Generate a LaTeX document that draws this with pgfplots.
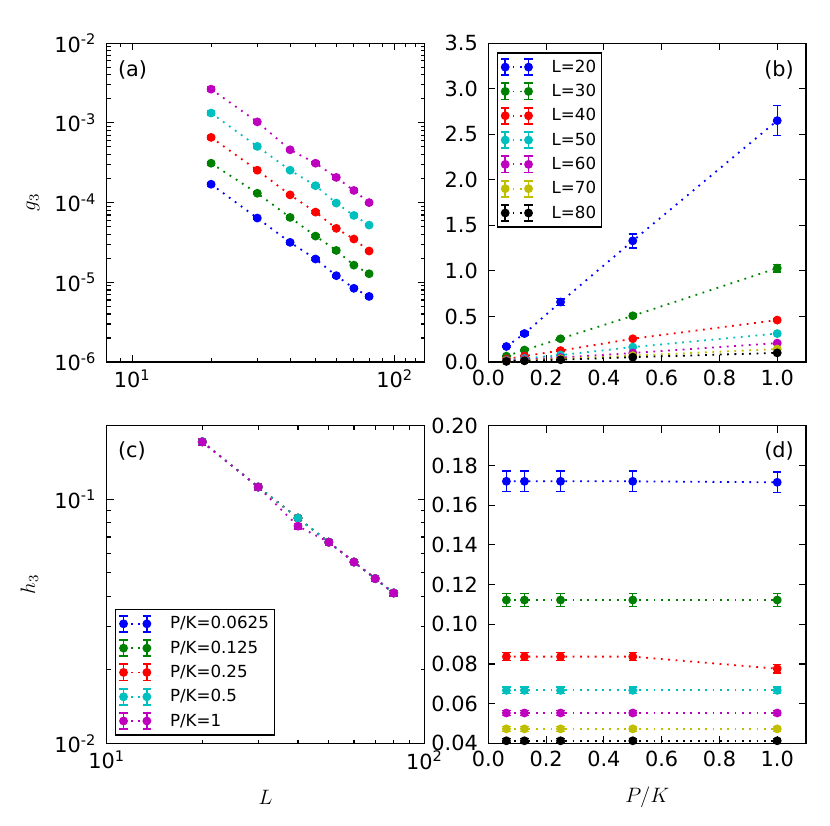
\documentclass[border=0pt]{standalone}
\usepackage[no-math]{fontspec}
\setmainfont{DejaVu Sans}
\usepackage{graphicx}
\usepackage{pgfplots}
\pgfplotsset{compat=1.18}
\usepackage{pgfplotstable}

\definecolor{mb}{rgb}{0,0,1}
\definecolor{mg}{rgb}{0,0.5,0}
\definecolor{mr}{rgb}{1,0,0}
\definecolor{mc}{rgb}{0,0.75,0.75}
\definecolor{mm}{rgb}{0.75,0,0.75}
\definecolor{my}{rgb}{0.75,0.75,0}
\definecolor{mk}{rgb}{0,0,0}

% g3 vs L, columns: P/K = 0.0625, 0.125, 0.25, 0.5, 1
\pgfplotstableread{
L  p1      e1      p2      e2      p3      e3      p4      e4      p5      e5
20 1.70e-4 1.0e-5  3.12e-4 1.8e-5  6.58e-4 3.8e-5  1.33e-3 7.7e-5  2.65e-3 1.66e-4
30 6.40e-5 2.6e-6  1.31e-4 5.2e-6  2.55e-4 1.0e-5  5.07e-4 2.0e-5  1.03e-3 4.3e-5
40 3.17e-5 1.3e-6  6.52e-5 2.6e-6  1.25e-4 5.0e-6  2.55e-4 1.0e-5  4.60e-4 1.8e-5
50 1.96e-5 8.0e-7  3.80e-5 1.5e-6  7.60e-5 3.0e-6  1.63e-4 6.5e-6  3.12e-4 1.25e-5
60 1.21e-5 5.0e-7  2.51e-5 1.0e-6  4.75e-5 1.9e-6  9.86e-5 3.9e-6  2.07e-4 8.3e-6
70 8.40e-6 3.4e-7  1.64e-5 6.6e-7  3.49e-5 1.4e-6  6.90e-5 2.8e-6  1.42e-4 5.7e-6
80 6.65e-6 2.7e-7  1.28e-5 5.1e-7  2.47e-5 1.0e-6  5.22e-5 2.1e-6  1.00e-4 4.0e-6
}\tabA

% g3 (in units of 1e-3) vs P/K, columns: L = 20 ... 80
\pgfplotstableread{
pk     a20   b20   a30   b30    a40    b40    a50    b50    a60    b60    a70    b70     a80     b80
0.0625 0.170 0.010 0.064 0.0026 0.0317 0.0013 0.0196 0.0008 0.0121 0.0005 0.0084 0.00034 0.00665 0.00027
0.125  0.312 0.018 0.131 0.0052 0.0652 0.0026 0.0380 0.0015 0.0251 0.0010 0.0164 0.00066 0.0128  0.00051
0.25   0.658 0.038 0.255 0.0100 0.1250 0.0050 0.0760 0.0030 0.0475 0.0019 0.0349 0.0014  0.0247  0.0010
0.5    1.330 0.077 0.507 0.0200 0.2550 0.0100 0.1630 0.0065 0.0986 0.0039 0.0690 0.0028  0.0522  0.0021
1.0    2.650 0.166 1.030 0.0430 0.4600 0.0180 0.3120 0.0125 0.2070 0.0083 0.1420 0.0057  0.1000  0.0040
}\tabB

% h3 vs L, columns: P/K = 0.0625, 0.125, 0.25, 0.5, 1
\pgfplotstableread{
L  h1     h2     h3     h4     h5     err
20 0.1720 0.1720 0.1720 0.1720 0.1715 0.0052
30 0.1122 0.1122 0.1122 0.1122 0.1122 0.0032
40 0.0837 0.0837 0.0837 0.0837 0.0776 0.0021
50 0.0667 0.0667 0.0667 0.0667 0.0667 0.0017
60 0.0553 0.0553 0.0553 0.0553 0.0553 0.0014
70 0.0473 0.0473 0.0473 0.0473 0.0473 0.0012
80 0.0413 0.0413 0.0413 0.0413 0.0413 0.0011
}\tabC

% h3 vs P/K, columns: L = 20 ... 80
\pgfplotstableread{
pk     a20    b20    a30    b30    a40    b40    a50    b50    a60    b60    a70    b70    a80    b80
0.0625 0.1720 0.0052 0.1122 0.0032 0.0837 0.0021 0.0667 0.0017 0.0553 0.0014 0.0473 0.0012 0.0413 0.0011
0.125  0.1720 0.0052 0.1122 0.0032 0.0837 0.0021 0.0667 0.0017 0.0553 0.0014 0.0473 0.0012 0.0413 0.0011
0.25   0.1720 0.0052 0.1122 0.0032 0.0837 0.0021 0.0667 0.0017 0.0553 0.0014 0.0473 0.0012 0.0413 0.0011
0.5    0.1720 0.0052 0.1122 0.0032 0.0837 0.0021 0.0667 0.0017 0.0553 0.0014 0.0473 0.0012 0.0413 0.0011
1.0    0.1715 0.0052 0.1122 0.0032 0.0776 0.0021 0.0667 0.0017 0.0553 0.0014 0.0473 0.0012 0.0413 0.0011
}\tabD

\tikzset{ser/.style={color=#1, mark=*, mark size=2.5pt, mark options={solid, fill=#1},
  line width=1.3pt, dash pattern=on 1.3pt off 4pt}}

\pgfplotsset{
  gen/.style={
    scale only axis, anchor=south west, width=228.8pt,
    axis line style={line width=1pt},
    tick style={black, line width=0.8pt},
    major tick length=5pt, minor tick length=2.8pt,
    tick align=inside,
    tick label style={font=\fontsize{15}{17}\selectfont},
    xticklabel style={yshift=-2pt},
    yticklabel style={xshift=-4pt},
    /pgf/number format/assume math mode=true,
    label style={font=\fontsize{12}{14}\selectfont},
    error bars/y dir=both, error bars/y explicit,
    error bars/error bar style={solid, line width=1pt},
    error bars/error mark options={rotate=90, solid, mark size=3pt, line width=1pt},
    legend cell align=left,
  },
  leg/.style={
    draw=black, line width=1pt, font=\fontsize{12}{14}\selectfont,
    inner xsep=2pt, inner ysep=3pt, row sep=3.1pt,
    /tikz/every odd column/.append style={column sep=11pt},
  },
}

\begin{document}
\begin{tikzpicture}
\path[use as bounding box] (0,0) rectangle (597.6pt,594.72pt);

% ---------------- (a)
\begin{axis}[gen, at={(76.8pt,334.1pt)}, height=229.5pt,
  xmode=log, ymode=log, xmin=8, xmax=130, ymin=1e-6, ymax=1e-2,
  xtick={10,100}, xticklabels={10\textsuperscript{1},10\textsuperscript{2}},
  minor xtick={8,9,20,30,40,50,60,70,80,90,110,120},
  ytick={1e-6,1e-5,1e-4,1e-3,1e-2},
  yticklabels={10\textsuperscript{-6},10\textsuperscript{-5},10\textsuperscript{-4},10\textsuperscript{-3},10\textsuperscript{-2}},
  minor ytick={2e-6,3e-6,4e-6,5e-6,6e-6,7e-6,8e-6,9e-6,
               2e-5,3e-5,4e-5,5e-5,6e-5,7e-5,8e-5,9e-5,
               2e-4,3e-4,4e-4,5e-4,6e-4,7e-4,8e-4,9e-4,
               2e-3,3e-3,4e-3,5e-3,6e-3,7e-3,8e-3,9e-3},
  ylabel={\scalebox{1.25}{$g_3$}}, ylabel style={at={(axis description cs:-0.232,0.5)}, anchor=center},
]
\addplot[ser=mb] table[x=L, y=p1, y error=e1] {\tabA};
\addplot[ser=mg] table[x=L, y=p2, y error=e2] {\tabA};
\addplot[ser=mr] table[x=L, y=p3, y error=e3] {\tabA};
\addplot[ser=mc] table[x=L, y=p4, y error=e4] {\tabA};
\addplot[ser=mm] table[x=L, y=p5, y error=e5] {\tabA};
\node[anchor=west, inner sep=0pt, font=\fontsize{15}{17}\selectfont] at (rel axis cs:0.035,0.915) {(a)};
\end{axis}

% ---------------- (b)
\begin{axis}[gen, at={(351.6pt,334.1pt)}, height=229.5pt,
  xmin=0, xmax=1.1, ymin=0, ymax=3.5,
  xtick={0,0.2,0.4,0.6,0.8,1.0}, xticklabels={0.0,0.2,0.4,0.6,0.8,1.0},
  ytick={0,0.5,1,1.5,2,2.5,3,3.5}, yticklabels={0.0,0.5,1.0,1.5,2.0,2.5,3.0,3.5},
  legend style={leg, at={(0,1)}, anchor=north west, xshift=6pt, yshift=-6.5pt},
  legend image code/.code={
    \draw[#1, solid, mark=none] (0pt,-5.8pt) -- (0pt,5.8pt) (-3pt,-5.8pt) -- (3pt,-5.8pt) (-3pt,5.8pt) -- (3pt,5.8pt)
      (16.8pt,-5.8pt) -- (16.8pt,5.8pt) (13.8pt,-5.8pt) -- (19.8pt,-5.8pt) (13.8pt,5.8pt) -- (19.8pt,5.8pt);
    \draw[#1] plot coordinates {(0pt,0pt) (16.8pt,0pt)};
  },
]
\addplot[ser=mb] table[x=pk, y=a20, y error=b20] {\tabB};
\addplot[ser=mg] table[x=pk, y=a30, y error=b30] {\tabB};
\addplot[ser=mr] table[x=pk, y=a40, y error=b40] {\tabB};
\addplot[ser=mc] table[x=pk, y=a50, y error=b50] {\tabB};
\addplot[ser=mm] table[x=pk, y=a60, y error=b60] {\tabB};
\addplot[ser=my] table[x=pk, y=a70, y error=b70] {\tabB};
\addplot[ser=mk] table[x=pk, y=a80, y error=b80] {\tabB};
\legend{L=20,L=30,L=40,L=50,L=60,L=70,L=80}
\node[anchor=east, inner sep=0pt, font=\fontsize{15}{17}\selectfont] at (rel axis cs:0.962,0.915) {(b)};
\node[anchor=south west, inner sep=0pt, font=\fontsize{15}{17}\selectfont] at (rel axis cs:0,1) [yshift=3.6pt] {1e−3};
\end{axis}

% ---------------- (c)
\begin{axis}[gen, at={(76.8pt,59.5pt)}, height=228.7pt,
  xmode=log, ymode=log, xmin=10, xmax=100, ymin=0.01, ymax=0.2,
  xtick={10,100}, xticklabels={10\textsuperscript{1},10\textsuperscript{2}},
  minor xtick={20,30,40,50,60,70,80,90},
  ytick={0.01,0.1}, yticklabels={10\textsuperscript{-2},10\textsuperscript{-1}},
  minor ytick={0.02,0.03,0.04,0.05,0.06,0.07,0.08,0.09,0.2},
  xlabel={\scalebox{1.25}{$L$}}, xlabel style={at={(axis description cs:0.5,-0.17)}, anchor=center},
  ylabel={\scalebox{1.25}{$h_3$}}, ylabel style={at={(axis description cs:-0.243,0.5)}, anchor=center},
  legend style={leg, at={(0,0)}, anchor=south west, xshift=6pt, yshift=5.5pt},
  legend image code/.code={
    \draw[#1, solid, mark=none] (0pt,-5.8pt) -- (0pt,5.8pt) (-3pt,-5.8pt) -- (3pt,-5.8pt) (-3pt,5.8pt) -- (3pt,5.8pt)
      (16.8pt,-5.8pt) -- (16.8pt,5.8pt) (13.8pt,-5.8pt) -- (19.8pt,-5.8pt) (13.8pt,5.8pt) -- (19.8pt,5.8pt);
    \draw[#1] plot coordinates {(0pt,0pt) (16.8pt,0pt)};
  },
]
\addplot[ser=mb] table[x=L, y=h1, y error=err] {\tabC};
\addplot[ser=mg] table[x=L, y=h2, y error=err] {\tabC};
\addplot[ser=mr] table[x=L, y=h3, y error=err] {\tabC};
\addplot[ser=mc] table[x=L, y=h4, y error=err] {\tabC};
\addplot[ser=mm] table[x=L, y=h5, y error=err] {\tabC};
\legend{P/K=0.0625,P/K=0.125,P/K=0.25,P/K=0.5,P/K=1}
\node[anchor=west, inner sep=0pt, font=\fontsize{15}{17}\selectfont] at (rel axis cs:0.035,0.92) {(c)};
\end{axis}

% ---------------- (d)
\begin{axis}[gen, at={(351.6pt,59.5pt)}, height=228.7pt,
  xmin=0, xmax=1.1, ymin=0.04, ymax=0.20,
  xtick={0,0.2,0.4,0.6,0.8,1.0}, xticklabels={0.0,0.2,0.4,0.6,0.8,1.0},
  ytick={0.04,0.06,0.08,0.10,0.12,0.14,0.16,0.18,0.20},
  yticklabels={0.04,0.06,0.08,0.10,0.12,0.14,0.16,0.18,0.20},
  xlabel={\scalebox{1.25}{$P/K$}}, xlabel style={at={(axis description cs:0.5,-0.17)}, anchor=center},
]
\addplot[ser=mb] table[x=pk, y=a20, y error=b20] {\tabD};
\addplot[ser=mg] table[x=pk, y=a30, y error=b30] {\tabD};
\addplot[ser=mr] table[x=pk, y=a40, y error=b40] {\tabD};
\addplot[ser=mc] table[x=pk, y=a50, y error=b50] {\tabD};
\addplot[ser=mm] table[x=pk, y=a60, y error=b60] {\tabD};
\addplot[ser=my] table[x=pk, y=a70, y error=b70] {\tabD};
\addplot[ser=mk] table[x=pk, y=a80, y error=b80] {\tabD};
\node[anchor=east, inner sep=0pt, font=\fontsize{15}{17}\selectfont] at (rel axis cs:0.962,0.92) {(d)};
\end{axis}
\end{tikzpicture}
\end{document}
